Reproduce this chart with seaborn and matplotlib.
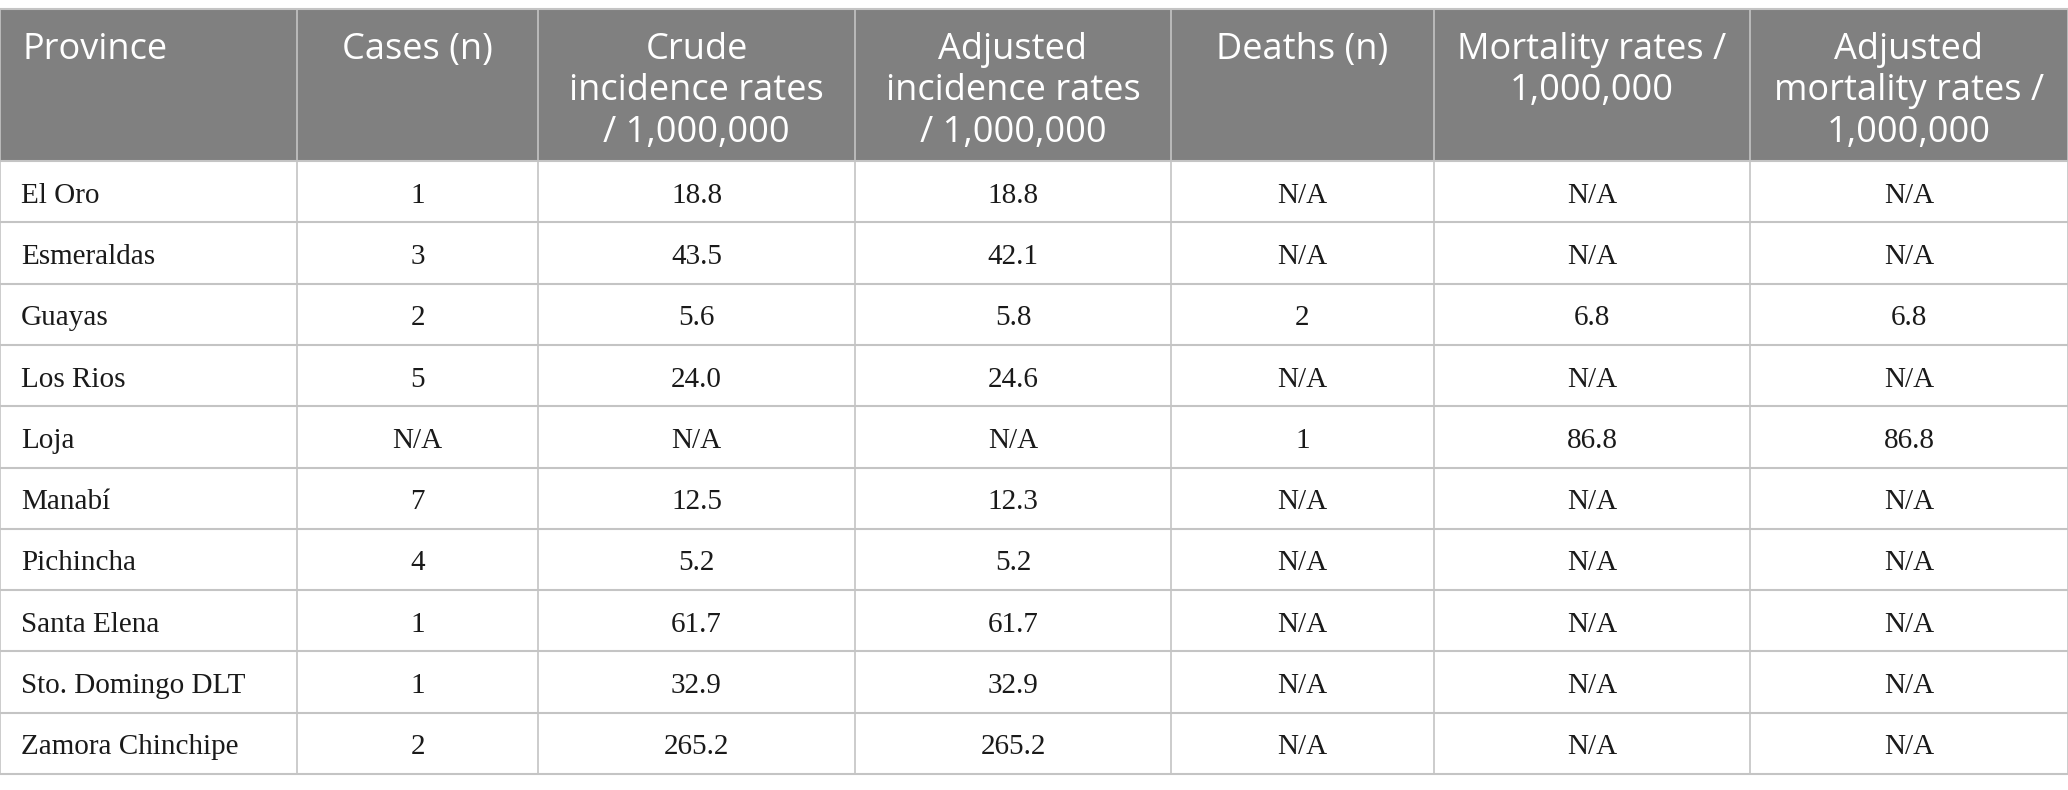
import matplotlib
matplotlib.use("Agg")
import matplotlib.pyplot as plt
import seaborn as sns

# table content
headers = ["Province", "Cases (n)", "Crude\nincidence rates\n/ 1,000,000",
           "Adjusted\nincidence rates\n/ 1,000,000", "Deaths (n)",
           "Mortality rates /\n1,000,000", "Adjusted\nmortality rates /\n1,000,000"]
provinces = ["El Oro", "Esmeraldas", "Guayas", "Los Rios", "Loja", "Manabí",
             "Pichincha", "Santa Elena", "Sto. Domingo DLT", "Zamora Chinchipe"]
cases = [1, 3, 2, 5, None, 7, 4, 1, 1, 2]
crude_inc = [18.8, 43.5, 5.6, 24.0, None, 12.5, 5.2, 61.7, 32.9, 265.2]
adj_inc = [18.8, 42.1, 5.8, 24.6, None, 12.3, 5.2, 61.7, 32.9, 265.2]
deaths = [None, None, 2, None, 1, None, None, None, None, None]
mortality = [None, None, 6.8, None, 86.8, None, None, None, None, None]
adj_mortality = [None, None, 6.8, None, 86.8, None, None, None, None, None]

# column edges in pixels
col_edges = [0, 297, 538, 855, 1171, 1434, 1750, 2068]
top, head_bottom, row_h = 9, 161, 61.3


def fmt(v, dec):
    if v is None:
        return "N/A"
    return f"{v:.{dec}f}" if dec else str(v)


columns = [provinces,
           [fmt(v, 0) for v in cases],
           [fmt(v, 1) for v in crude_inc],
           [fmt(v, 1) for v in adj_inc],
           [fmt(v, 0) for v in deaths],
           [fmt(v, 1) for v in mortality],
           [fmt(v, 1) for v in adj_mortality]]

sns.set_theme(style="white")
plt.rcParams["font.family"] = ["Open Sans", "DejaVu Sans"]

fig = plt.figure(figsize=(20.68, 7.90), dpi=100)
ax = fig.add_axes([0, 0, 1, 1])
ax.set_xlim(0, 2068)
ax.set_ylim(790, 0)
ax.axis("off")

n = len(provinces)
bottom = head_bottom + n * row_h

# header background
ax.fill_between([0, 2068], top, head_bottom, color="#808080", lw=0)

# grid lines
line_c = "#c4c4c4"
ax.plot([0, 2068], [top, top], color=line_c, lw=1.5)
for i in range(n + 1):
    y = head_bottom + i * row_h
    ax.plot([0, 2068], [y, y], color=line_c, lw=1.5)
for x in col_edges:
    ax.plot([x, x], [top, bottom], color=line_c, lw=1.2)

# header text
for j, h in enumerate(headers):
    if j == 0:
        ax.text(col_edges[0] + 22, 32, h, ha="left", va="top", color="white",
                fontsize=26, linespacing=1.2)
    else:
        cx = (col_edges[j] + col_edges[j + 1]) / 2
        ax.text(cx, 32, h, ha="center", va="top", color="white",
                fontsize=26, linespacing=1.2, multialignment="center")

# body text
for j, col in enumerate(columns):
    for i, val in enumerate(col):
        cy = head_bottom + (i + 0.5) * row_h + 4
        if j == 0:
            ax.text(col_edges[0] + 21, cy, val, ha="left", va="center",
                    family="Liberation Serif", fontsize=21, color="#1a1a1a")
        else:
            cx = (col_edges[j] + col_edges[j + 1]) / 2
            ax.text(cx, cy, val, ha="center", va="center",
                    family="Liberation Serif", fontsize=21, color="#1a1a1a")

fig.savefig("out.png", dpi=100)
